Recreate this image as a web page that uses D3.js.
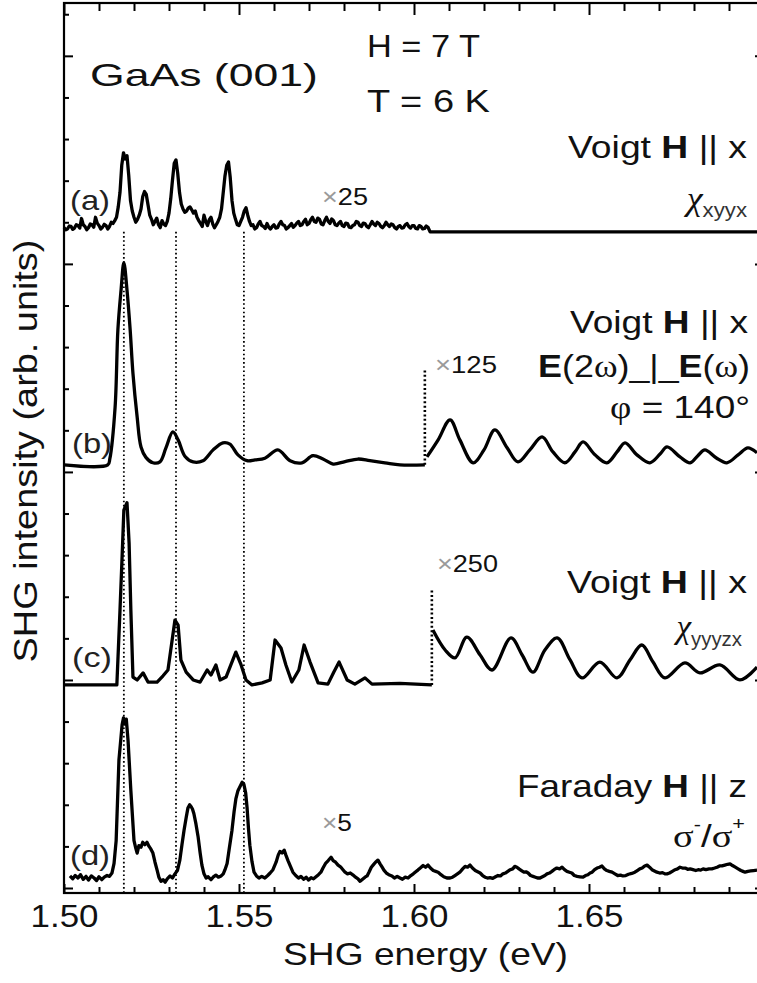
<!DOCTYPE html>
<html>
<head>
<meta charset="utf-8">
<script src="https://cdn.jsdelivr.net/npm/d3@7"></script>
<style>
  html, body { margin: 0; padding: 0; background: #fff; }
  svg { display: block; }
</style>
</head>
<body>
<svg id="chart"></svg>
<script>
// ---- data (energies in eV, intensities in arb. units relative to each trace baseline) ----
const xMajorTicks = [1.50, 1.55, 1.60, 1.65, 1.70];
const xTickLabels = ["1.50", "1.55", "1.60", "1.65", ""];
const xMinorTicks = [1.51, 1.52, 1.53, 1.54, 1.56, 1.57, 1.58, 1.59, 1.61, 1.62, 1.63, 1.64, 1.66, 1.67, 1.68, 1.69];
const yMajorTicks = [0, 5, 10, 15, 20];
const yMinorTicks = [1, 2, 3, 4, 6, 7, 8, 9, 11, 12, 13, 14, 16, 17, 18, 19, 21];

// vertical offsets of the four stacked spectra (a), (b), (c), (d)
const traceOffsets = [15.82, 10.17, 4.88, 0.24];
const traceNames = ["(a)", "(b)", "(c)", "(d)"];

// exciton positions marked by dotted lines
const excitonLines = [1.5171, 1.5320, 1.5514];

// (a) Voigt, chi_xyyx, x25
const traceA = [
  [1.500, 0.05], [1.5005, 0.0], [1.501, 0.02], [1.5015, 0.09], [1.502, 0.08], [1.5025, 0.01],
  [1.503, 0.04], [1.5035, 0.12], [1.504, 0.10], [1.5045, 0.04], [1.505, 0.27], [1.5055, 0.12],
  [1.506, 0.08], [1.5065, 0.0], [1.507, 0.05], [1.5075, 0.14], [1.508, 0.12], [1.5085, 0.06],
  [1.509, 0.30], [1.5095, 0.16], [1.510, 0.10], [1.5105, 0.02], [1.511, 0.06], [1.5115, 0.13],
  [1.512, 0.10], [1.5125, 0.02], [1.513, 0.08], [1.5135, 0.18], [1.514, 0.15], [1.5145, 0.22],
  [1.515, 0.30], [1.5155, 0.55], [1.516, 0.90], [1.5165, 1.55], [1.517, 1.85], [1.5175, 1.70],
  [1.518, 1.78], [1.5185, 1.30], [1.519, 0.70], [1.5195, 0.45], [1.520, 0.30], [1.5205, 0.18],
  [1.521, 0.25], [1.5215, 0.35], [1.522, 0.50], [1.5225, 0.80], [1.523, 0.92], [1.5235, 0.85],
  [1.524, 0.60], [1.5245, 0.35], [1.525, 0.25], [1.5255, 0.12], [1.526, 0.20], [1.5265, 0.28],
  [1.527, 0.12], [1.5275, 0.05], [1.528, 0.22], [1.5285, 0.14], [1.529, 0.10], [1.5295, 0.2],
  [1.530, 0.40], [1.5305, 0.75], [1.531, 1.20], [1.5315, 1.60], [1.532, 1.68], [1.5325, 1.35],
  [1.533, 0.90], [1.5335, 0.62], [1.534, 0.50], [1.5345, 0.42], [1.535, 0.45], [1.5355, 0.52],
  [1.536, 0.55], [1.5365, 0.48], [1.537, 0.40], [1.5375, 0.45], [1.538, 0.30], [1.5385, 0.22],
  [1.539, 0.15], [1.5395, 0.08], [1.540, 0.35], [1.5405, 0.2], [1.541, 0.10], [1.5415, 0.24],
  [1.542, 0.30], [1.5425, 0.14], [1.543, 0.05], [1.5435, 0.12], [1.544, 0.20], [1.5445, 0.3],
  [1.545, 0.50], [1.5455, 0.9], [1.546, 1.30], [1.5465, 1.55], [1.547, 1.63], [1.5475, 1.25],
  [1.548, 0.70], [1.5485, 0.4], [1.549, 0.25], [1.5495, 0.12], [1.550, 0.10], [1.5505, 0.2],
  [1.551, 0.30], [1.5515, 0.45], [1.552, 0.53], [1.5525, 0.35], [1.553, 0.20], [1.5535, 0.1],
  [1.554, 0.12], [1.5545, 0.02], [1.555, 0.05], [1.5555, 0.14], [1.556, 0.20], [1.5565, 0.1],
  [1.557, 0.08], [1.5575, 0.03], [1.558, 0.15], [1.5585, 0.06], [1.559, 0.02], [1.5595, 0.08],
  [1.560, 0.12], [1.5605, 0.04], [1.561, 0.05], [1.5615, 0.14], [1.562, 0.20], [1.5625, 0.12],
  [1.563, 0.10], [1.5635, 0.02], [1.564, 0.05], [1.5645, 0.1], [1.565, 0.15], [1.5655, 0.06],
  [1.566, 0.10], [1.5665, 0.16], [1.567, 0.20], [1.5675, 0.1], [1.568, 0.12], [1.5685, 0.2],
  [1.569, 0.25], [1.5695, 0.12], [1.570, 0.15], [1.5705, 0.24], [1.571, 0.30], [1.5715, 0.2],
  [1.572, 0.18], [1.5725, 0.28], [1.573, 0.25], [1.5735, 0.14], [1.574, 0.12], [1.5745, 0.22],
  [1.575, 0.30], [1.5755, 0.2], [1.576, 0.15], [1.5765, 0.26], [1.577, 0.22], [1.5775, 0.12],
  [1.578, 0.10], [1.5785, 0.16], [1.579, 0.20], [1.5795, 0.1], [1.580, 0.08], [1.5805, 0.16],
  [1.581, 0.15], [1.5815, 0.06], [1.582, 0.05], [1.5825, 0.1], [1.583, 0.12], [1.5835, 0.2],
  [1.584, 0.18], [1.5845, 0.1], [1.585, 0.08], [1.5855, 0.16], [1.586, 0.15], [1.5865, 0.08],
  [1.587, 0.05], [1.5875, 0.12], [1.588, 0.20], [1.5885, 0.14], [1.589, 0.10], [1.5895, 0.18],
  [1.590, 0.15], [1.5905, 0.08], [1.591, 0.05], [1.5915, 0.1], [1.592, 0.18], [1.5925, 0.12],
  [1.593, 0.08], [1.5935, 0.14], [1.594, 0.12], [1.5945, 0.05], [1.595, 0.02], [1.5955, 0.08],
  [1.596, 0.10], [1.5965, 0.04], [1.597, 0.05], [1.5975, 0.12], [1.598, 0.15], [1.5985, 0.08],
  [1.599, 0.04], [1.5995, 0.1], [1.600, 0.10], [1.6005, 0.03], [1.601, 0.02], [1.6015, 0.1],
  [1.602, 0.08], [1.6025, 0.02], [1.603, 0.03], [1.6035, 0.09], [1.604, 0.06], [1.6046, -0.05],
  [1.700, -0.05]
];

// (b) Voigt, E(2w) perp E(w), phi = 140 deg; right part x125
const traceBLow = [
  [1.500, 0], [1.5125, 0], [1.5131, 0.15], [1.5146, 1.39], [1.5154, 3.25], [1.5163, 4.20],
  [1.5171, 4.86], [1.5180, 4.20], [1.5189, 3.25], [1.5197, 2.20], [1.5209, 1.15], [1.5220, 0.43],
  [1.5234, 0.18], [1.5254, 0.05], [1.5274, 0.07], [1.5291, 0.40], [1.5311, 0.79], [1.5326, 0.60],
  [1.5346, 0.20], [1.5369, 0.07], [1.5397, 0.10], [1.5426, 0.36], [1.5454, 0.53], [1.5474, 0.50],
  [1.5497, 0.24], [1.5523, 0.10], [1.5546, 0.12], [1.5574, 0.16], [1.5611, 0.36], [1.5646, 0.10],
  [1.5680, 0.05], [1.5711, 0.22], [1.5740, 0.14], [1.5769, 0.02], [1.5803, 0.08], [1.5840, 0.14],
  [1.5874, 0.10], [1.5917, 0.05], [1.5960, 0.00], [1.6031, 0.00]
];
const traceBHigh = [
  [1.6037, 0.19], [1.6069, 0.60], [1.6103, 1.08], [1.6131, 0.60], [1.6169, 0.05], [1.6200, 0.36],
  [1.6231, 0.84], [1.6266, 0.41], [1.6297, 0.07], [1.6331, 0.36], [1.6366, 0.67], [1.6397, 0.31],
  [1.6431, 0.05], [1.6460, 0.31], [1.6483, 0.55], [1.6517, 0.24], [1.6551, 0.05], [1.6580, 0.31],
  [1.6603, 0.53], [1.6637, 0.24], [1.6674, 0.05], [1.6703, 0.26], [1.6723, 0.43], [1.6760, 0.19],
  [1.6789, 0.05], [1.6811, 0.22], [1.6831, 0.36], [1.6863, 0.17], [1.6894, 0.05], [1.6926, 0.24],
  [1.6954, 0.41], [1.6980, 0.29]
];

// (c) Voigt, chi_yyyzx; right part x250
const traceCLow = [
  [1.500, 0], [1.5151, 0], [1.5160, 1.80], [1.5166, 3.08], [1.5171, 4.20], [1.5180, 4.38],
  [1.5186, 3.41], [1.5191, 1.80], [1.5197, 0.19], [1.5209, 0.12], [1.5226, 0.29], [1.5240, 0.07],
  [1.5266, 0.07], [1.5283, 0.22], [1.5297, 0.36], [1.5309, 1.08], [1.5317, 1.56], [1.5326, 1.44],
  [1.5334, 0.60], [1.5349, 0.31], [1.5369, 0.12], [1.5389, 0.07], [1.5409, 0.36], [1.5420, 0.24],
  [1.5434, 0.48], [1.5446, 0.12], [1.5463, 0.19], [1.5491, 0.79], [1.5506, 0.48], [1.5520, 0.12],
  [1.5537, 0.00], [1.5566, 0.05], [1.5589, 0.12], [1.5603, 1.08], [1.5620, 0.89], [1.5634, 0.48],
  [1.5651, 0.07], [1.5671, 0.36], [1.5686, 0.96], [1.5703, 0.55], [1.5726, 0.05], [1.5754, 0.02],
  [1.5771, 0.31], [1.5786, 0.55], [1.5809, 0.12], [1.5831, 0.02], [1.5860, 0.17], [1.5880, 0.02],
  [1.5960, 0.04], [1.6051, 0.00]
];
const traceCHigh = [
  [1.6054, 1.32], [1.6089, 0.84], [1.6117, 0.65], [1.6151, 1.15], [1.6189, 0.72], [1.6223, 0.36],
  [1.6277, 1.13], [1.6309, 0.72], [1.6340, 0.31], [1.6374, 0.84], [1.6409, 1.13], [1.6446, 0.60],
  [1.6480, 0.17], [1.6531, 0.55], [1.6580, 0.17], [1.6617, 0.60], [1.6651, 0.96], [1.6683, 0.55],
  [1.6717, 0.17], [1.6774, 0.53], [1.6817, 0.29], [1.6874, 0.48], [1.6931, 0.12], [1.6980, 0.43]
];

// (d) Faraday, sigma-/sigma+, x5
const traceD = [
  [1.5017, 0.05], [1.5025, -0.02], [1.5032, 0.06], [1.5040, 0.00], [1.5047, 0.08], [1.5055, -0.03],
  [1.5063, 0.04], [1.5070, -0.05], [1.5078, 0.05], [1.5086, 0.00], [1.5093, -0.06], [1.5100, 0.03],
  [1.5108, -0.04], [1.5115, 0.02], [1.5123, 0.06], [1.5130, 0.04], [1.5137, 0.12], [1.5143, 0.35],
  [1.5149, 0.90], [1.5157, 2.84], [1.5166, 3.68], [1.5170, 3.85], [1.5174, 3.70], [1.5178, 3.82],
  [1.5183, 3.30], [1.5191, 2.10], [1.5200, 0.90], [1.5205, 0.72], [1.5209, 0.60], [1.5214, 0.78],
  [1.5220, 0.74], [1.5225, 0.86], [1.5231, 0.80], [1.5237, 0.86], [1.5243, 0.76], [1.5248, 0.70],
  [1.5254, 0.60], [1.5260, 0.38], [1.5266, 0.19], [1.5271, 0.02], [1.5277, -0.08], [1.5283, -0.04],
  [1.5289, -0.10], [1.5295, -0.02], [1.5303, 0.05], [1.5310, 0.00], [1.5317, 0.10], [1.5324, 0.18],
  [1.5331, 0.43], [1.5337, 0.80], [1.5343, 1.15], [1.5349, 1.45], [1.5354, 1.68], [1.5359, 1.76],
  [1.5363, 1.72], [1.5367, 1.66], [1.5371, 1.55], [1.5377, 1.30], [1.5383, 1.00], [1.5389, 0.60],
  [1.5394, 0.31], [1.5400, 0.10], [1.5406, 0.00], [1.5412, 0.03], [1.5420, -0.04], [1.5426, 0.02],
  [1.5434, 0.07], [1.5441, 0.02], [1.5449, 0.05], [1.5455, 0.10], [1.5460, 0.20], [1.5466, 0.35],
  [1.5472, 0.70], [1.5480, 1.15], [1.5486, 1.60], [1.5491, 1.90], [1.5497, 2.10], [1.5503, 2.20],
  [1.5509, 2.30], [1.5514, 2.25], [1.5519, 2.05], [1.5523, 1.70], [1.5527, 1.20], [1.5531, 0.79],
  [1.5537, 0.40], [1.5543, 0.14], [1.5550, 0.05], [1.5557, 0.00], [1.5565, 0.04], [1.5574, 0.00],
  [1.5582, 0.06], [1.5589, 0.12], [1.5597, 0.20], [1.5606, 0.38], [1.5612, 0.55], [1.5617, 0.64],
  [1.5623, 0.60], [1.5629, 0.67], [1.5634, 0.55], [1.5640, 0.42], [1.5647, 0.28], [1.5654, 0.14],
  [1.5662, 0.06], [1.5670, 0.00], [1.5677, 0.04], [1.5685, -0.03], [1.5692, 0.02], [1.5699, -0.05],
  [1.5706, 0.01], [1.5713, -0.02], [1.5720, 0.03], [1.5727, 0.08], [1.5734, 0.14], [1.5740, 0.24],
  [1.5748, 0.36], [1.5755, 0.42], [1.5763, 0.50], [1.5769, 0.42], [1.5776, 0.38], [1.5783, 0.31],
  [1.5790, 0.27], [1.5797, 0.20], [1.5803, 0.14], [1.5810, 0.10], [1.5818, 0.12], [1.5826, 0.07],
  [1.5833, 0.02], [1.5840, -0.02], [1.5846, -0.08], [1.5853, -0.03], [1.5860, 0.02], [1.5866, 0.05],
  [1.5872, 0.15], [1.5878, 0.26], [1.5883, 0.31], [1.5890, 0.38], [1.5897, 0.43], [1.5903, 0.34],
  [1.5909, 0.26], [1.5914, 0.19], [1.5921, 0.12], [1.5928, 0.08], [1.5937, 0.05], [1.5944, 0.00],
  [1.5952, 0.04], [1.5960, 0.00], [1.5967, -0.03], [1.5975, 0.02], [1.5983, 0.00], [1.5991, 0.06],
  [1.5998, 0.10], [1.6005, 0.15], [1.6011, 0.19], [1.6018, 0.24], [1.6026, 0.30], [1.6033, 0.26],
  [1.6040, 0.31], [1.6047, 0.24], [1.6055, 0.18], [1.6062, 0.16], [1.6069, 0.14], [1.6077, 0.08],
  [1.6085, 0.03], [1.6094, 0.00], [1.6103, 0.00], [1.6110, 0.02], [1.6117, 0.06], [1.6124, 0.10],
  [1.6131, 0.14], [1.6139, 0.22], [1.6146, 0.28], [1.6153, 0.26], [1.6160, 0.31], [1.6167, 0.24],
  [1.6175, 0.18], [1.6182, 0.15], [1.6189, 0.12], [1.6196, 0.06], [1.6203, 0.02], [1.6210, 0.00],
  [1.6217, 0.01], [1.6225, -0.01], [1.6233, 0.03], [1.6240, 0.06], [1.6247, 0.05], [1.6254, 0.10],
  [1.6261, 0.12], [1.6268, 0.16], [1.6275, 0.20], [1.6282, 0.22], [1.6288, 0.28], [1.6294, 0.26],
  [1.6300, 0.22], [1.6307, 0.18], [1.6314, 0.14], [1.6320, 0.15], [1.6326, 0.12], [1.6333, 0.06],
  [1.6340, 0.04], [1.6347, 0.02], [1.6353, 0.00], [1.6360, 0.00], [1.6367, 0.03], [1.6374, 0.06],
  [1.6380, 0.10], [1.6387, 0.12], [1.6394, 0.16], [1.6400, 0.20], [1.6408, 0.24], [1.6416, 0.22],
  [1.6423, 0.26], [1.6430, 0.20], [1.6437, 0.16], [1.6444, 0.14], [1.6451, 0.12], [1.6458, 0.06],
  [1.6466, 0.04], [1.6474, 0.03], [1.6483, 0.02], [1.6490, 0.06], [1.6497, 0.08], [1.6503, 0.12],
  [1.6509, 0.14], [1.6516, 0.20], [1.6523, 0.24], [1.6530, 0.26], [1.6537, 0.29], [1.6544, 0.22],
  [1.6551, 0.18], [1.6558, 0.16], [1.6566, 0.14], [1.6574, 0.10], [1.6582, 0.06], [1.6590, 0.07],
  [1.6597, 0.05], [1.6605, 0.06], [1.6613, 0.09], [1.6622, 0.11], [1.6631, 0.14], [1.6638, 0.18],
  [1.6645, 0.22], [1.6652, 0.24], [1.6659, 0.29], [1.6666, 0.31], [1.6673, 0.26], [1.6680, 0.20],
  [1.6687, 0.17], [1.6694, 0.14], [1.6702, 0.12], [1.6710, 0.13], [1.6717, 0.10], [1.6723, 0.10],
  [1.6730, 0.12], [1.6738, 0.16], [1.6746, 0.20], [1.6753, 0.22], [1.6760, 0.26], [1.6767, 0.24],
  [1.6775, 0.24], [1.6782, 0.21], [1.6789, 0.22], [1.6797, 0.20], [1.6805, 0.18], [1.6812, 0.20],
  [1.6819, 0.19], [1.6826, 0.22], [1.6834, 0.20], [1.6843, 0.22], [1.6851, 0.22], [1.6859, 0.24],
  [1.6866, 0.26], [1.6873, 0.29], [1.6880, 0.29], [1.6888, 0.31], [1.6896, 0.33], [1.6903, 0.34],
  [1.6910, 0.30], [1.6918, 0.26], [1.6926, 0.22], [1.6934, 0.18], [1.6940, 0.16], [1.6946, 0.14],
  [1.6954, 0.16], [1.6962, 0.17], [1.6970, 0.18], [1.6980, 0.19]
];

// dotted markers where the magnification changes: [energy, trace index, top value]
const scaleBreaks = [[1.6031, 1, 2.28], [1.6051, 2, 2.28]];

// ---- layout ----
const width = 757, height = 983;
const sans = "'Liberation Sans', Arial, Helvetica, sans-serif";
const serif = "'Liberation Serif', 'Times New Roman', serif";

const svg = d3.select("#chart").attr("width", width).attr("height", height);

const x = d3.scaleLinear().domain([1.50, 1.70]).range([64, 764]);
const y = d3.scaleLinear().domain([-0.12, 21.27]).range([893, 3]);

const [x0, x1] = x.range();
const [yB, yT] = y.range();

// stretch a text node horizontally so it spans the given width
function fit(t, w, x, yPos, rotate) {
  const bw = t.node().getBBox().width;
  const s = w / bw;
  t.attr("transform", `translate(${x},${yPos})${rotate ? " rotate(-90)" : ""} scale(${s},1)`);
}

// label made of styled pieces; p = {t, b(bold), f(font), i(italic), s(size), dy, c(colour)}
function label(parts, opts) {
  const t = svg.append("text")
    .attr("font-family", sans)
    .attr("font-size", opts.size || 32)
    .attr("fill", opts.color || "#111")
    .attr("text-anchor", opts.anchor || "start");
  parts.forEach(p => {
    const ts = t.append("tspan").text(p.t);
    if (p.b) ts.attr("font-weight", "bold");
    if (p.f) ts.attr("font-family", p.f);
    if (p.i) ts.attr("font-style", "italic");
    if (p.s) ts.attr("font-size", p.s);
    if (p.dy) ts.attr("dy", p.dy);
    if (p.c) ts.attr("fill", p.c);
  });
  fit(t, opts.w, opts.x, opts.y, opts.rotate);
  return t;
}

// ---- axes: ticks point inward on all four sides ----
function styleAxis(g) {
  g.select(".domain").remove();
  g.selectAll(".tick line").attr("stroke", "#000").attr("stroke-width", 2);
}

svg.append("g").attr("transform", `translate(0,${yB})`)
  .call(d3.axisBottom(x).tickValues(xMinorTicks).tickSize(-6).tickFormat(""))
  .call(styleAxis);
const gxMajor = svg.append("g").attr("transform", `translate(0,${yB})`)
  .call(d3.axisBottom(x).tickValues(xMajorTicks).tickSize(-9).tickPadding(11)
    .tickFormat((d, i) => xTickLabels[i]))
  .call(styleAxis);
gxMajor.selectAll("text")
  .attr("font-family", sans).attr("font-size", 32).attr("fill", "#111")
  .each(function () {
    const t = d3.select(this);
    if (!t.text()) return;
    const s = 68 / this.getBBox().width;
    t.attr("transform", `scale(${s},1)`);
  });

svg.append("g").attr("transform", `translate(0,${yT})`)
  .call(d3.axisTop(x).tickValues(xMinorTicks).tickSize(-8).tickFormat(""))
  .call(styleAxis);
svg.append("g").attr("transform", `translate(0,${yT})`)
  .call(d3.axisTop(x).tickValues(xMajorTicks).tickSize(-12).tickFormat(""))
  .call(styleAxis);

[[x0, d3.axisLeft], [x1, d3.axisRight]].forEach(([xp, ax]) => {
  svg.append("g").attr("transform", `translate(${xp},0)`)
    .call(ax(y).tickValues(yMinorTicks).tickSize(-5).tickFormat(""))
    .call(styleAxis);
  svg.append("g").attr("transform", `translate(${xp},0)`)
    .call(ax(y).tickValues(yMajorTicks).tickSize(-9).tickFormat(""))
    .call(styleAxis);
});

svg.append("rect")
  .attr("x", x0).attr("y", yT)
  .attr("width", x1 - x0).attr("height", yB - yT)
  .attr("fill", "none").attr("stroke", "#000").attr("stroke-width", 2.2);

// ---- dotted guide lines ----
svg.selectAll(".exciton")
  .data(excitonLines)
  .enter()
  .append("line")
  .attr("class", "exciton")
  .attr("x1", d => x(d)).attr("x2", d => x(d))
  .attr("y1", y(traceOffsets[0] - 0.05)).attr("y2", yB)
  .attr("stroke", "#000").attr("stroke-width", 1.8)
  .attr("stroke-dasharray", "1.6,2.6");

svg.selectAll(".break")
  .data(scaleBreaks)
  .enter()
  .append("line")
  .attr("class", "break")
  .attr("x1", d => x(d[0])).attr("x2", d => x(d[0]))
  .attr("y1", d => y(traceOffsets[d[1]])).attr("y2", d => y(traceOffsets[d[1]] + d[2]))
  .attr("stroke", "#000").attr("stroke-width", 2.6)
  .attr("stroke-dasharray", "2,2.4");

// ---- spectra: noisy traces drawn straight, smooth ones through a spline ----
const segments = [
  [traceA, 0, d3.curveLinear], [traceBLow, 1, d3.curveCatmullRom], [traceBHigh, 1, d3.curveCatmullRom],
  [traceCLow, 2, d3.curveLinear], [traceCHigh, 2, d3.curveCatmullRom], [traceD, 3, d3.curveLinear]
];
segments.forEach(([data, k, curve]) => {
  const line = d3.line()
    .curve(curve)
    .x(d => x(d[0]))
    .y(d => y(traceOffsets[k] + d[1]));
  svg.append("path")
    .datum(data)
    .attr("d", line)
    .attr("fill", "none")
    .attr("stroke", "#000")
    .attr("stroke-width", 3.3)
    .attr("stroke-linejoin", "round");
});

// ---- texts ----
label([{ t: "GaAs (001)" }], { x: 90, y: 86, w: 228 });
label([{ t: "H = 7 T" }], { x: 367, y: 57, w: 113 });
label([{ t: "T = 6 K" }], { x: 367, y: 112, w: 123 });

const voigt = [{ t: "Voigt " }, { t: "H", b: true }, { t: " || x" }];
label(voigt, { x: 747, y: 158, w: 179, anchor: "end" });
label(voigt, { x: 748, y: 333, w: 178, anchor: "end" });
label(voigt, { x: 747, y: 593, w: 180, anchor: "end" });
label([{ t: "Faraday " }, { t: "H", b: true }, { t: " || z" }], { x: 747, y: 797, w: 230, anchor: "end" });

label([{ t: "χ", f: serif, i: true, s: 34 }, { t: "xyyx", s: 21, dy: 7, c: "#333" }],
  { x: 747, y: 210, w: 64, anchor: "end" });
label([{ t: "χ", f: serif, i: true, s: 34 }, { t: "yyyzx", s: 21, dy: 8, c: "#333" }],
  { x: 742, y: 638, w: 69, anchor: "end" });

label([{ t: "E", b: true }, { t: "(2" }, { t: "ω", f: serif }, { t: ")_|_" },
  { t: "E", b: true }, { t: "(" }, { t: "ω", f: serif }, { t: ")" }],
  { x: 750, y: 377, w: 212, anchor: "end" });
label([{ t: "φ", f: serif }, { t: " = 140°" }], { x: 750, y: 418, w: 140, anchor: "end" });
label([{ t: "σ", f: serif }, { t: "-", s: 18, dy: -16 }, { t: "/", dy: 16 },
  { t: "σ", f: serif }, { t: "+", s: 18, dy: -17 }],
  { x: 745, y: 847, w: 72, anchor: "end" });

// magnification factors
const times = (n) => [{ t: "×", c: "#9a9a9a" }, { t: n }];
label(times("25"), { x: 322, y: 205, w: 46, size: 24 });
label(times("125"), { x: 435, y: 373, w: 62, size: 24 });
label(times("250"), { x: 437, y: 572, w: 61, size: 24 });
label(times("5"), { x: 322, y: 831, w: 30, size: 24 });

// trace tags
const tagY = [210, 453, 667, 865];
traceNames.forEach((n, i) => {
  label([{ t: n }], { x: i === 0 || i === 3 ? 70 : 72, y: tagY[i], w: 40, size: 28, color: "#222" });
});

// axis titles
label([{ t: "SHG energy (eV)" }], { x: 425.5, y: 965, w: 285, anchor: "middle" });
label([{ t: "SHG intensity (arb. units)" }], { x: 37, y: 451, w: 423, size: 34, anchor: "middle", rotate: true });
</script>
</body>
</html>
